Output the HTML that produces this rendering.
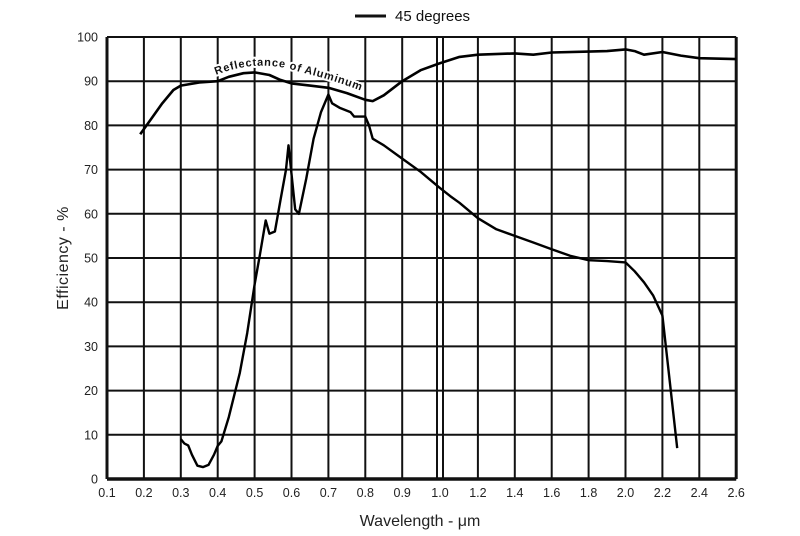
<!DOCTYPE html>
<html><head><meta charset="utf-8"><style>
html,body{margin:0;padding:0;background:#fff;}
svg{display:block;font-family:"Liberation Sans",Arial,sans-serif;}
</style></head><body>
<svg id="s" width="800" height="536" viewBox="0 0 800 536" xmlns="http://www.w3.org/2000/svg">
<g id="grid" stroke="#111" stroke-width="2"></g>
<g id="labels" font-size="12.5" fill="#222"></g>
<line x1="355" y1="16" x2="386" y2="16" stroke="#111" stroke-width="3"/>
<text x="395" y="21" font-size="15" fill="#111">45 degrees</text>
<text x="420" y="526" font-size="16" text-anchor="middle" fill="#222">Wavelength - μm</text>
<text transform="translate(68,258) rotate(-90)" font-size="16" text-anchor="middle" fill="#222" letter-spacing="0.5">Efficiency - %</text>
<path id="tp" fill="none" d="M216,75 Q258,58 300,72 Q335,80 372,95"/>
<text font-size="11" font-weight="bold" fill="#111" letter-spacing="0.8" stroke="#fff" stroke-width="4" paint-order="stroke" stroke-linejoin="round"><textPath href="#tp">Reflectance   of   Aluminum</textPath></text>
<path id="refl" fill="none" stroke="#000" stroke-width="2.6" stroke-linejoin="round"/>
<path id="eff" fill="none" stroke="#000" stroke-width="2.4" stroke-linejoin="round"/>
</svg>
<script>
function X(w){return w<=1.0?107+(w-0.1)/0.1*36.9:441+(w-1.0)/0.2*36.9;}
function Y(v){return 479-v*4.42;}
var g=document.getElementById('grid'),L=document.getElementById('labels'),ns='http://www.w3.org/2000/svg';
function ln(x1,y1,x2,y2,w){var e=document.createElementNS(ns,'line');e.setAttribute('x1',x1);e.setAttribute('y1',y1);e.setAttribute('x2',x2);e.setAttribute('y2',y2);if(w)e.setAttribute('stroke-width',w);g.appendChild(e);}
function tx(x,y,t,a){var e=document.createElementNS(ns,'text');e.setAttribute('x',x);e.setAttribute('y',y);e.setAttribute('text-anchor',a);e.textContent=t;L.appendChild(e);}
var xs=[0.1,0.2,0.3,0.4,0.5,0.6,0.7,0.8,0.9,1.2,1.4,1.6,1.8,2.0,2.2,2.4,2.6];
xs.forEach(function(w){var x=X(w);ln(x,Y(100),x,Y(0));tx(x,497,w.toFixed(1),'middle');});
ln(437,Y(100),437,Y(0));ln(443,Y(100),443,Y(0));tx(440,497,'1.0','middle');
for(var v=0;v<=100;v+=10){ln(X(0.1),Y(v),X(2.6),Y(v));tx(98,Y(v)+4.5,String(v),'end');}
ln(X(0.1),Y(0),X(2.6),Y(0),3.5);ln(X(0.1),Y(100),X(0.1),Y(0),3);ln(X(2.6),Y(100),X(2.6),Y(0),3);
function path(pts){return pts.map(function(p,i){return (i?'L':'M')+X(p[0]).toFixed(1)+','+Y(p[1]).toFixed(1);}).join(' ');}
var R=[[0.19,78],[0.22,81.5],[0.25,85],[0.28,88],[0.3,89],[0.35,89.7],[0.4,90],[0.43,91],[0.47,91.8],[0.5,92],[0.54,91.4],[0.57,90.3],[0.6,89.5],[0.65,89],[0.7,88.5],[0.75,87.3],[0.8,85.8],[0.82,85.5],[0.85,86.8],[0.9,90],[0.95,92.5],[1.0,94],[1.1,95.5],[1.2,96],[1.4,96.3],[1.5,96],[1.6,96.5],[1.8,96.7],[1.9,96.8],[2.0,97.2],[2.05,96.8],[2.1,96],[2.2,96.6],[2.3,95.8],[2.4,95.2],[2.6,95]];
var E=[[0.3,9],[0.31,8],[0.32,7.6],[0.33,5.5],[0.345,3],[0.36,2.7],[0.375,3.2],[0.39,5.5],[0.4,7.5],[0.41,8.5],[0.43,14],[0.46,24],[0.48,33],[0.5,44],[0.515,51],[0.53,58.5],[0.54,55.5],[0.555,56],[0.57,63],[0.585,70],[0.592,75.5],[0.6,69],[0.61,61],[0.62,60],[0.64,68],[0.66,77],[0.68,83],[0.7,87],[0.71,85],[0.73,84],[0.76,83],[0.77,82],[0.8,82],[0.81,80],[0.82,77],[0.85,75.5],[0.9,72.5],[0.95,69.5],[1.0,66],[1.05,64],[1.1,62.5],[1.2,59],[1.3,56.5],[1.4,55],[1.5,53.5],[1.6,52],[1.7,50.5],[1.8,49.5],[1.9,49.3],[2.0,49],[2.05,47],[2.1,44.5],[2.15,41.5],[2.2,37],[2.24,22],[2.28,7]];
document.getElementById('refl').setAttribute('d',path(R));
document.getElementById('eff').setAttribute('d',path(E));
</script>
</body></html>
